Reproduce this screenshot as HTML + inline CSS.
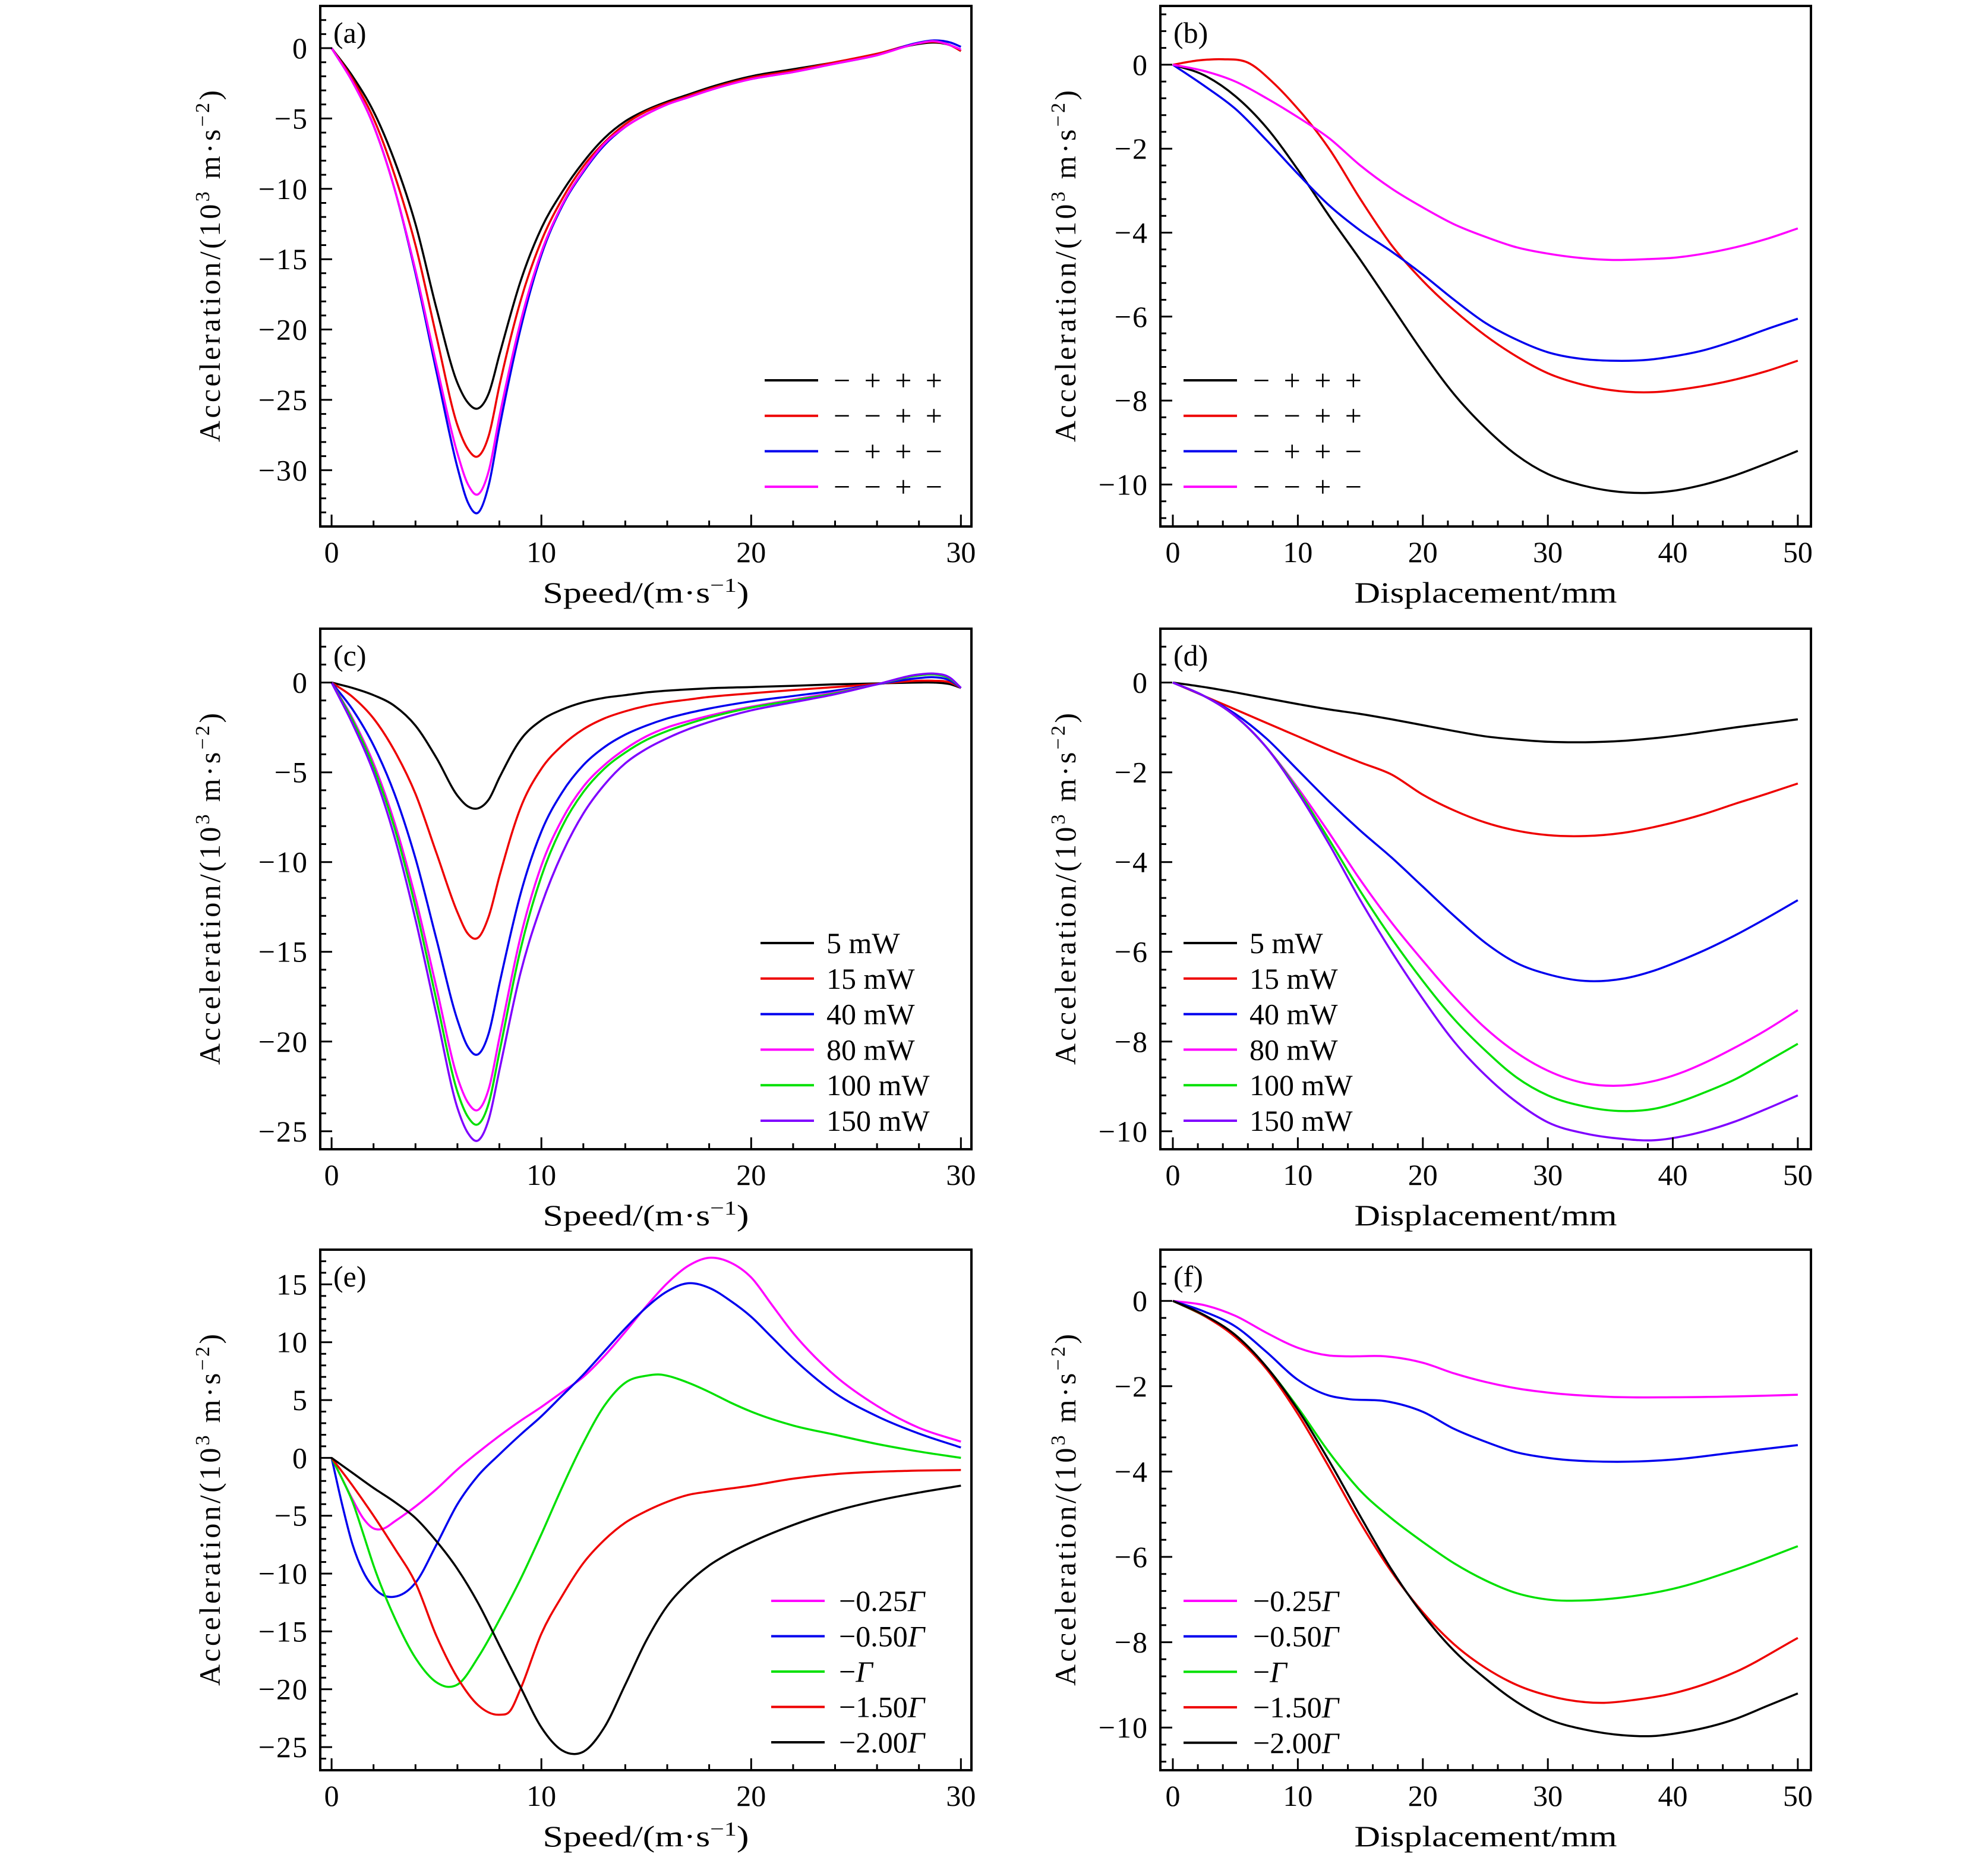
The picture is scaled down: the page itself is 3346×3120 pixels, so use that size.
<!DOCTYPE html>
<html><head><meta charset="utf-8"><style>
html,body{margin:0;padding:0;background:#fff;}
svg{display:block;font-family:"Liberation Serif",serif;}
</style></head><body>
<svg id="fig" width="3346" height="3120" viewBox="0 0 3346 3120" xmlns="http://www.w3.org/2000/svg"></svg>
<script>
// ---------- data ----------
const xSpeed = [0,1,2,3,4,5,6,6.5,7,7.5,8,9,10,11,12,13,14,15,16,17,18,20,22,24,26,28,28.7,29.5,30];
const aBlack   = [0,-2,-4.5,-8,-12.5,-18.5,-23.8,-25.2,-25.6,-24.5,-21.8,-16.6,-12.8,-10.2,-8.1,-6.4,-5.2,-4.4,-3.8,-3.3,-2.8,-2,-1.5,-1,-0.4,0.3,0.4,0.2,-0.2];
const aRed     = [0,-2.2,-5,-9,-14,-20.5,-26.8,-28.5,-29,-27.5,-24,-18,-13.7,-10.7,-8.4,-6.7,-5.4,-4.5,-3.9,-3.4,-2.9,-2.1,-1.6,-1,-0.4,0.35,0.45,0.2,-0.2];
const aBlue    = [0,-2.4,-5.5,-10,-16,-23,-29.8,-32.3,-33,-31,-27,-20,-14.7,-11.2,-8.8,-6.9,-5.6,-4.7,-4,-3.5,-3,-2.2,-1.7,-1.1,-0.5,0.4,0.55,0.4,0.1];
const aMagenta = [0,-2.4,-5.5,-10,-15.8,-22.5,-28.8,-31,-31.7,-30,-26.2,-19.5,-14.5,-11.1,-8.7,-6.8,-5.6,-4.7,-4,-3.5,-3,-2.2,-1.7,-1.1,-0.5,0.35,0.5,0.2,-0.1];

const c5   = [0,-0.3,-0.7,-1.3,-2.4,-4.2,-6.3,-6.9,-7,-6.5,-5.3,-3.2,-2.1,-1.5,-1.1,-0.85,-0.7,-0.55,-0.45,-0.38,-0.32,-0.25,-0.18,-0.1,-0.05,0,0,-0.1,-0.3];
const c15  = [0,-0.8,-2,-3.8,-6.2,-9.5,-12.8,-14,-14.2,-13,-10.8,-7,-4.8,-3.5,-2.6,-2,-1.6,-1.3,-1.1,-0.95,-0.8,-0.6,-0.42,-0.25,-0.08,0.1,0.1,0,-0.3];
const c40  = [0,-1.5,-3.5,-6.2,-9.8,-14.3,-18.8,-20.3,-20.7,-19.5,-16.8,-11.8,-8.3,-6.1,-4.6,-3.6,-2.9,-2.4,-2,-1.7,-1.45,-1.05,-0.75,-0.45,-0.1,0.25,0.3,0.1,-0.3];
const c80  = [0,-2,-4.5,-7.8,-12,-17,-22,-23.4,-23.8,-22.6,-19.8,-14.2,-10.2,-7.6,-5.8,-4.6,-3.7,-3,-2.5,-2.15,-1.85,-1.35,-0.95,-0.55,-0.1,0.4,0.45,0.2,-0.3];
const c100 = [0,-2.1,-4.7,-8.1,-12.5,-17.7,-22.8,-24.2,-24.6,-23.4,-20.6,-14.9,-10.8,-8,-6.1,-4.8,-3.9,-3.2,-2.7,-2.3,-1.95,-1.4,-1,-0.6,-0.1,0.4,0.45,0.2,-0.3];
const c150 = [0,-2.3,-5,-8.6,-13.2,-18.5,-23.7,-25.1,-25.5,-24.3,-21.6,-16.2,-12.4,-9.5,-7.3,-5.7,-4.5,-3.7,-3.1,-2.6,-2.2,-1.55,-1.1,-0.65,-0.1,0.45,0.5,0.25,-0.3];

const xE025 = [0,0.5,1,1.5,2,2.5,3,4,5,6,7,8,9,10,11,12,13,14,15,16,17,18,19,20,21,22,23,24,26,28,30];
const e025  = [0,-1.8,-3.6,-5.2,-6.1,-6.1,-5.5,-4.2,-2.7,-1,0.5,1.9,3.2,4.4,5.7,7,8.8,10.9,13.1,15.1,16.6,17.3,16.9,15.6,13.2,10.8,8.8,7.1,4.5,2.6,1.4];
const xE050 = [0,0.5,1,1.5,2,2.5,3,4,5,6,7,8,9,10,11,12,13,14,15,16,17,18,19,20,21,22,24,26,28,30];
const e050  = [0,-4,-7.5,-9.8,-11.2,-11.9,-12,-10.8,-7.5,-4,-1.5,0.3,2,3.6,5.4,7.2,9.2,11.2,13,14.4,15.1,14.7,13.6,12.2,10.4,8.6,5.6,3.6,2.1,0.9];
const xE100 = [0,0.5,1,1.5,2,3,4,5,5.6,6,7,8,9,10,11,12,13,14,15,15.7,16,17,18,19,20,22,24,26,28,30];
const e100  = [0,-1.8,-3.8,-6.5,-9.3,-13.8,-17.3,-19.4,-19.8,-19.6,-17.2,-14,-10.5,-6.6,-2.5,1.3,4.5,6.5,7.1,7.2,7.1,6.5,5.7,4.8,4,2.8,2,1.2,0.55,0];
const xE150 = [0,1,2,3,4,5,6,7,8,8.5,9,10,11,12,13,14,15,16,17,18,20,22,24,26,28,30];
const e150  = [0,-2.4,-5,-7.8,-10.8,-15.4,-19,-21.4,-22.2,-21.9,-20,-15.2,-11.9,-9.1,-7.1,-5.6,-4.6,-3.8,-3.2,-2.9,-2.4,-1.8,-1.4,-1.2,-1.1,-1.05];
const xE200 = [0,1,2,3,4,5,6,7,8,9,10,11,11.6,12,13,14,15,16,17,18,19,20,22,24,26,28,30];
const e200  = [0,-1.3,-2.6,-3.8,-5.2,-7.2,-9.6,-12.6,-16.2,-19.8,-23.3,-25.3,-25.6,-25.4,-23.3,-19.6,-15.8,-12.8,-10.8,-9.3,-8.2,-7.3,-5.8,-4.6,-3.7,-3,-2.4];

const xB = [0,2.5,5,7.5,10,12.5,15,17.5,20,22.5,25,27.5,30,32.5,35,38,40,42.5,45,47.5,50];
const bBlack   = [0,-0.25,-0.75,-1.5,-2.5,-3.6,-4.65,-5.75,-6.85,-7.85,-8.65,-9.3,-9.75,-10,-10.15,-10.2,-10.15,-10,-9.78,-9.5,-9.2];
const xBRed = [0,2,4,6,8,10,11,12.5,15,17.5,20,22.5,25,27.5,30,32.5,35,38.5,41,45,47.5,50];
const bRed     = [0,0.1,0.13,0.05,-0.42,-1.05,-1.4,-2,-3.2,-4.3,-5.15,-5.85,-6.45,-6.95,-7.35,-7.6,-7.75,-7.8,-7.72,-7.5,-7.3,-7.05];
const bBlue    = [0,-0.5,-1.05,-1.8,-2.6,-3.35,-3.95,-4.45,-5,-5.6,-6.15,-6.55,-6.85,-7,-7.05,-7.03,-6.95,-6.8,-6.57,-6.3,-6.05];
const bMagenta = [0,-0.15,-0.4,-0.8,-1.25,-1.75,-2.4,-2.95,-3.4,-3.8,-4.1,-4.35,-4.5,-4.6,-4.65,-4.63,-4.6,-4.5,-4.35,-4.15,-3.9];

const xD = [0,2.5,5,7.5,10,12.5,15,17.5,20,22.5,25,27.5,30,33,36,38.5,41,42.5,45,47.5,50];
const d5   = [0,-0.1,-0.22,-0.35,-0.48,-0.6,-0.7,-0.82,-0.95,-1.08,-1.2,-1.27,-1.32,-1.33,-1.3,-1.24,-1.16,-1.1,-1,-0.91,-0.82];
const d15  = [0,-0.3,-0.6,-0.9,-1.2,-1.5,-1.78,-2.05,-2.5,-2.85,-3.12,-3.3,-3.4,-3.42,-3.35,-3.22,-3.05,-2.93,-2.7,-2.48,-2.25];
const d40  = [0,-0.3,-0.7,-1.25,-1.95,-2.65,-3.3,-3.9,-4.55,-5.2,-5.8,-6.25,-6.5,-6.65,-6.6,-6.42,-6.15,-5.97,-5.63,-5.25,-4.85];
const d80  = [0,-0.3,-0.75,-1.45,-2.35,-3.35,-4.4,-5.35,-6.2,-7,-7.7,-8.25,-8.65,-8.93,-8.98,-8.88,-8.66,-8.48,-8.13,-7.74,-7.3];
const d100 = [0,-0.3,-0.75,-1.45,-2.4,-3.5,-4.65,-5.7,-6.65,-7.5,-8.2,-8.8,-9.2,-9.45,-9.55,-9.5,-9.3,-9.14,-8.84,-8.45,-8.05];
const d150 = [0,-0.3,-0.75,-1.45,-2.45,-3.6,-4.85,-6,-7.05,-8,-8.75,-9.35,-9.8,-10.05,-10.17,-10.2,-10.1,-10.0,-9.78,-9.5,-9.2];

const xF = [0,2.5,5,7.5,10,12.5,14,17,20,22.5,25,27.5,30,35,40,45,50];
const f025 = [0,-0.1,-0.35,-0.75,-1.1,-1.28,-1.3,-1.3,-1.45,-1.7,-1.9,-2.05,-2.15,-2.25,-2.26,-2.24,-2.2];
const f050 = [0,-0.25,-0.6,-1.2,-1.85,-2.22,-2.3,-2.35,-2.6,-3,-3.3,-3.55,-3.68,-3.77,-3.72,-3.55,-3.38];
const xF2 = [0,2.5,5,7.5,10,12.5,15,17.5,20,22.5,25,27.5,30,33,36,40,45,50];
const f100 = [0,-0.35,-0.8,-1.55,-2.5,-3.55,-4.45,-5.1,-5.65,-6.15,-6.55,-6.85,-7,-7.02,-6.95,-6.75,-6.3,-5.75];
const xF3 = [0,2.5,5,7.5,10,12.5,15,17.5,20,22.5,25,27.5,30,34.5,37,40,45,50];
const f150 = [0,-0.35,-0.85,-1.6,-2.65,-3.9,-5.2,-6.35,-7.3,-8.05,-8.6,-9,-9.25,-9.42,-9.35,-9.2,-8.7,-7.9];
const xF4 = [0,2.5,5,7.5,10,12.5,15,17.5,20,22.5,25,27.5,30,33,36,38.3,41,45,47.5,50];
const f200 = [0,-0.33,-0.8,-1.55,-2.55,-3.75,-5.05,-6.3,-7.35,-8.2,-8.85,-9.4,-9.8,-10.05,-10.18,-10.2,-10.1,-9.8,-9.5,-9.2];

const speedTicks = [0,10,20,30];
const dispTicks = [0,10,20,30,40,50];

const BLK="#000000", RED="#ee0000", BLU="#0000ee", MAG="#ff00ff", GRN="#00e000", PUR="#7f00ff";

// ---------- drawing ----------
const NS="http://www.w3.org/2000/svg";
const svg=document.getElementById('fig');
function mk(tag, parent){const e=document.createElementNS(NS,tag);(parent||svg).appendChild(e);return e;}

function pathD(xs, ys, sx, sy){
  const n=xs.length, m=new Array(n);
  for(let i=0;i<n;i++){
    if(i===0) m[i]=(ys[1]-ys[0])/(xs[1]-xs[0]);
    else if(i===n-1) m[i]=(ys[n-1]-ys[n-2])/(xs[n-1]-xs[n-2]);
    else{
      const h0=xs[i]-xs[i-1], h1=xs[i+1]-xs[i];
      const d0=(ys[i]-ys[i-1])/h0, d1=(ys[i+1]-ys[i])/h1;
      m[i]=(d0*h1+d1*h0)/(h0+h1);
    }
  }
  let d='M'+sx(xs[0]).toFixed(1)+','+sy(ys[0]).toFixed(1);
  for(let i=0;i<n-1;i++){
    const h=xs[i+1]-xs[i];
    const c1x=xs[i]+h/3, c1y=ys[i]+m[i]*h/3;
    const c2x=xs[i+1]-h/3, c2y=ys[i+1]-m[i+1]*h/3;
    d+=' C'+sx(c1x).toFixed(1)+','+sy(c1y).toFixed(1)+' '+sx(c2x).toFixed(1)+','+sy(c2y).toFixed(1)+' '+sx(xs[i+1]).toFixed(1)+','+sy(ys[i+1]).toFixed(1);
  }
  return d;
}
function fmt(v){const s=String(Math.abs(Math.round(v*100)/100));return (v<0?'\u2212':'')+s;}

function panel(cfg){
  const g=mk('g');
  
  
  const L=cfg.L,R=cfg.R,T=cfg.T,B=cfg.B;
  const sx=x=>L+(x-cfg.x0)/(cfg.x1-cfg.x0)*(R-L);
  const sy=y=>T+(cfg.y1-y)/(cfg.y1-cfg.y0)*(B-T);
  cfg.series.forEach(s=>{
    const p=mk('path',g);
    
    
    p.setAttribute('d', pathD(s.x, s.y, sx, sy));
    p.setAttribute('fill','none');p.setAttribute('stroke',s.color);p.setAttribute('stroke-width','3.5');
    p.setAttribute('stroke-linejoin','round');
  });
  const fr=mk('rect',g);
  
  
  fr.setAttribute('x',L);fr.setAttribute('y',T);fr.setAttribute('width',R-L);fr.setAttribute('height',B-T);
  fr.setAttribute('fill','none');fr.setAttribute('stroke','#000');fr.setAttribute('stroke-width','4');
  let td='';
  for(let v=cfg.xMinorStart; v<=cfg.x1+1e-9; v+=cfg.xMinor){const X=sx(v);td+=`M${X.toFixed(1)},${B}v-10`;}
  cfg.xTicks.forEach(v=>{const X=sx(v);td+=`M${X.toFixed(1)},${B}v-20`;});
  for(let k=0;;k++){const v=cfg.yMinorStart+k*cfg.yMinor; if(v>cfg.y1+1e-9)break; const Y=sy(v);td+=`M${L},${Y.toFixed(1)}h10`;}
  cfg.yTicks.forEach(v=>{const Y=sy(v);td+=`M${L},${Y.toFixed(1)}h20`;});
  const tk=mk('path',g);
  
  
  tk.setAttribute('d',td);tk.setAttribute('stroke','#000');tk.setAttribute('stroke-width','3');tk.setAttribute('fill','none');
  cfg.xTicks.forEach(v=>{
    const t=mk('text',g);
    
    
    t.setAttribute('x',sx(v));t.setAttribute('y',B+60);t.setAttribute('text-anchor','middle');t.setAttribute('font-size','50');
    t.textContent=fmt(v);
  });
  cfg.yTicks.forEach(v=>{
    const t=mk('text',g);
    
    
    t.setAttribute('x',L-20);t.setAttribute('y',sy(v)+17);t.setAttribute('text-anchor','end');t.setAttribute('font-size','50');
    t.setAttribute('letter-spacing','2');
    t.textContent=fmt(v);
  });
  const xt=mk('text',g);
  
  
  xt.setAttribute('x',(L+R)/2);xt.setAttribute('y',B+128);xt.setAttribute('text-anchor','middle');xt.setAttribute('font-size','50');
  xt.setAttribute('textLength',cfg.xTitleLen);xt.setAttribute('lengthAdjust','spacingAndGlyphs');
  xt.innerHTML=cfg.xTitle;
  const yt=mk('text',g);
  
  
  const yc=(T+B)/2;
  yt.setAttribute('transform',`translate(${cfg.yTitleX},${yc}) rotate(-90)`);
  yt.setAttribute('text-anchor','middle');yt.setAttribute('font-size','50');
  yt.setAttribute('textLength','592');yt.setAttribute('lengthAdjust','spacing');
  yt.innerHTML='Acceleration/(10<tspan font-size="34" dy="-18">3</tspan><tspan dy="18"> m·s</tspan><tspan font-size="34" dy="-18">−2</tspan><tspan dy="18">)</tspan>';
  const pl=mk('text',g);
  
  
  pl.setAttribute('x',L+22);pl.setAttribute('y',T+62);pl.setAttribute('font-size','50');
  pl.textContent='('+cfg.id+')';
  cfg.series.forEach((s,i)=>{
    const y=cfg.legY+i*cfg.legDy;
    const ln=mk('line',g);
    
    
    ln.setAttribute('x1',cfg.legX);ln.setAttribute('x2',cfg.legX+90);ln.setAttribute('y1',y);ln.setAttribute('y2',y);
    ln.setAttribute('stroke',s.color);ln.setAttribute('stroke-width','4');
    const t=mk('text',g);
    
    
    t.setAttribute('x',cfg.legX+cfg.legTextOff);t.setAttribute('y',y+17);t.setAttribute('font-size','50');
    if(s.signs){t.setAttribute('textLength','183');t.setAttribute('lengthAdjust','spacing');}
    t.innerHTML=s.label;
  });
}

const LC={L:539,R:1635,x0:-0.54,x1:30.5,xTicks:speedTicks,xMinor:2,xMinorStart:0,
  xTitle:'Speed/(m·s<tspan font-size="34" dy="-18">−1</tspan><tspan dy="18">)</tspan>',xTitleLen:347,yTitleX:370};
const RC={L:1953,R:3048,x0:-1,x1:51.05,xTicks:dispTicks,xMinor:2,xMinorStart:0,
  xTitle:'Displacement/mm',xTitleLen:442,yTitleX:1810};
const R1={T:10,B:886}, R2={T:1058,B:1934}, R3={T:2103,B:2979};

const sgn=[['−+++',BLK],['−−++',RED],['−++−',BLU],['−−+−',MAG]];
const pw=['5 mW','15 mW','40 mW','80 mW','100 mW','150 mW'];
const gam=['−0.25<tspan font-style="italic">Γ</tspan>','−0.50<tspan font-style="italic">Γ</tspan>','−<tspan font-style="italic">Γ</tspan>','−1.50<tspan font-style="italic">Γ</tspan>','−2.00<tspan font-style="italic">Γ</tspan>'];

panel(Object.assign({},LC,R1,{id:'a',y0:-34,y1:3,yTicks:[-30,-25,-20,-15,-10,-5,0],yMinor:1,yMinorStart:-33,
  legX:1287,legTextOff:116,legY:640,legDy:59.7,
  series:[{name:'mppp',x:xSpeed,y:aBlack,color:BLK,label:sgn[0][0],signs:1},
          {name:'mmpp',x:xSpeed,y:aRed,color:RED,label:sgn[1][0],signs:1},
          {name:'mppm',x:xSpeed,y:aBlue,color:BLU,label:sgn[2][0],signs:1},
          {name:'mmpm',x:xSpeed,y:aMagenta,color:MAG,label:sgn[3][0],signs:1}]}));
panel(Object.assign({},RC,R1,{id:'b',y0:-11,y1:1.4,yTicks:[-10,-8,-6,-4,-2,0],yMinor:0.4,yMinorStart:-10.8,
  legX:1992,legTextOff:117,legY:640,legDy:59.7,
  series:[{name:'mppp',x:xB,y:bBlack,color:BLK,label:sgn[0][0],signs:1},
          {name:'mmpp',x:xBRed,y:bRed,color:RED,label:sgn[1][0],signs:1},
          {name:'mppm',x:xB,y:bBlue,color:BLU,label:sgn[2][0],signs:1},
          {name:'mmpm',x:xB,y:bMagenta,color:MAG,label:sgn[3][0],signs:1}]}));
panel(Object.assign({},LC,R2,{id:'c',y0:-26,y1:3,yTicks:[-25,-20,-15,-10,-5,0],yMinor:1,yMinorStart:-26,
  legX:1280,legTextOff:111,legY:1587,legDy:59.8,
  series:[{name:'5mW',x:xSpeed,y:c5,color:BLK,label:pw[0]},
          {name:'15mW',x:xSpeed,y:c15,color:RED,label:pw[1]},
          {name:'40mW',x:xSpeed,y:c40,color:BLU,label:pw[2]},
          {name:'80mW',x:xSpeed,y:c80,color:MAG,label:pw[3]},
          {name:'100mW',x:xSpeed,y:c100,color:GRN,label:pw[4]},
          {name:'150mW',x:xSpeed,y:c150,color:PUR,label:pw[5]}]}));
panel(Object.assign({},RC,R2,{id:'d',y0:-10.4,y1:1.2,yTicks:[-10,-8,-6,-4,-2,0],yMinor:0.4,yMinorStart:-10.4,
  legX:1992,legTextOff:111,legY:1587,legDy:59.8,
  series:[{name:'5mW',x:xD,y:d5,color:BLK,label:pw[0]},
          {name:'15mW',x:xD,y:d15,color:RED,label:pw[1]},
          {name:'40mW',x:xD,y:d40,color:BLU,label:pw[2]},
          {name:'80mW',x:xD,y:d80,color:MAG,label:pw[3]},
          {name:'100mW',x:xD,y:d100,color:GRN,label:pw[4]},
          {name:'150mW',x:xD,y:d150,color:PUR,label:pw[5]}]}));
panel(Object.assign({},LC,R3,{id:'e',y0:-27,y1:18,yTicks:[-25,-20,-15,-10,-5,0,5,10,15],yMinor:1,yMinorStart:-27,
  legX:1298,legTextOff:114,legY:2694,legDy:59.5,
  series:[{name:'g025',x:xE025,y:e025,color:MAG,label:gam[0]},
          {name:'g050',x:xE050,y:e050,color:BLU,label:gam[1]},
          {name:'g100',x:xE100,y:e100,color:GRN,label:gam[2]},
          {name:'g150',x:xE150,y:e150,color:RED,label:gam[3]},
          {name:'g200',x:xE200,y:e200,color:BLK,label:gam[4]}]}));
panel(Object.assign({},RC,R3,{id:'f',y0:-11,y1:1.2,yTicks:[-10,-8,-6,-4,-2,0],yMinor:0.4,yMinorStart:-10.8,
  legX:1992,legTextOff:117,legY:2694,legDy:59.7,
  series:[{name:'g025',x:xF,y:f025,color:MAG,label:gam[0]},
          {name:'g050',x:xF,y:f050,color:BLU,label:gam[1]},
          {name:'g100',x:xF2,y:f100,color:GRN,label:gam[2]},
          {name:'g150',x:xF3,y:f150,color:RED,label:gam[3]},
          {name:'g200',x:xF4,y:f200,color:BLK,label:gam[4]}]}));
</script>
</body></html>
